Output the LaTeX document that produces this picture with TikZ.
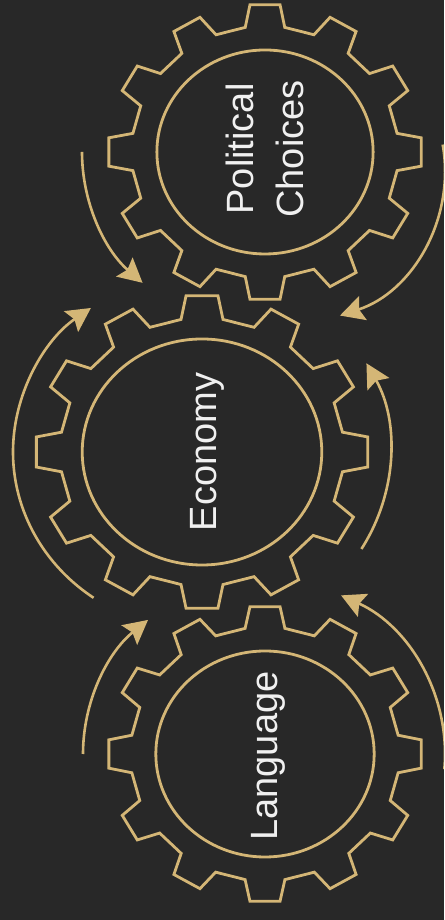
\documentclass[tikz,border=0pt]{standalone}
\usepackage{fontspec}
\usepackage{tikz}
\usetikzlibrary{arrows.meta,calc}
\setmainfont{Liberation Sans}
\definecolor{gold}{RGB}{212,182,118}
\definecolor{board}{RGB}{40,40,40}
\tikzset{
	gearline/.style={gold, line width=2.8pt, line join=miter},
	flow/.style={gold, line width=2.6pt, -{Stealth[length=24pt,width=25pt,inset=4pt]}},
	gearlabel/.style={text=white!94!black, rotate=90, align=center, font=\fontsize{38}{50}\selectfont}
}

\begin{document}
\begin{tikzpicture}[x=1pt,y=1pt]
			\clip (0,0) rectangle (444,920);
			\fill[board] (0,0) rectangle (444,920);
			\coordinate (pc) at (265,768);
			\coordinate (eco) at (202,468);
			\coordinate (lang) at (265,166);
			\begin{scope}[shift={(pc)}, xscale=1.06]
				\draw[gearline] (-8.5:126) \foreach \a in {0,30,...,330} { -- (\a-5.5:148) -- (\a+5.5:148) -- (\a+8.5:126) -- (\a+21.5:126) } -- cycle;
				\draw[gearline] (0,0) circle[radius=102];
			\end{scope}
			\begin{scope}[shift={(eco)}, xscale=1.06]
				\draw[gearline] (-8.5:134) \foreach \a in {0,30,...,330} { -- (\a-5.5:157) -- (\a+5.5:157) -- (\a+8.5:134) -- (\a+21.5:134) } -- cycle;
				\draw[gearline] (0,0) circle[radius=113];
			\end{scope}
			\begin{scope}[shift={(lang)}, xscale=1.06]
				\draw[gearline] (-8.5:127) \foreach \a in {0,30,...,330} { -- (\a-5.5:148) -- (\a+5.5:148) -- (\a+8.5:127) -- (\a+21.5:127) } -- cycle;
				\draw[gearline] (0,0) circle[radius=103];
			\end{scope}
			\node[gearlabel] (pcText) at ($(pc)+(0,3)$) {Political\\Choices};
			\node[gearlabel] (ecoText) at ($(eco)+(5,0)$) {Economy};
			\node[gearlabel] (langText) at ($(lang)+(3,-2)$) {Language};
			\coordinate (pcArc) at ($(pc)+(28,-19)$);
			\coordinate (pcW) at ($(pc)+(180:183 and 176)$);
			\coordinate (pcE) at ($(pcArc)+(10:152)$);
			\coordinate (ecoSW) at ($(eco)+(235:189 and 178)$);
			\coordinate (ecoSE) at ($(eco)+(-32:188 and 183)$);
			\coordinate (langW) at ($(lang)+(180:182 and 175)$);
			\coordinate (langE) at ($(lang)+(-5:180 and 175)$);
			\draw[flow] (pcW) arc[start angle=180, end angle=228, x radius=183, y radius=176];
			\draw[flow] (pcE) arc[start angle=10, end angle=-72, radius=152];
			\draw[flow] (ecoSW) arc[start angle=235, end angle=126, x radius=189, y radius=178];
			\draw[flow] (ecoSE) arc[start angle=-32, end angle=29, x radius=188, y radius=183];
			\draw[flow] (langW) arc[start angle=180, end angle=130, x radius=182, y radius=175];
			\draw[flow] (langE) arc[start angle=-5, end angle=65, x radius=180, y radius=175];
\end{tikzpicture}
\end{document}
